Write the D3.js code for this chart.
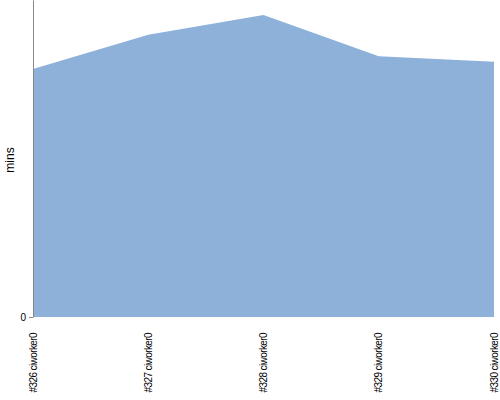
<!DOCTYPE html>
<html>
<head>
<meta charset="utf-8">
<script src="https://cdn.jsdelivr.net/npm/d3@7"></script>
<style>
  body { margin: 0; background: #fff; }
  text { font-family: "Liberation Sans", Arial, sans-serif; }
</style>
</head>
<body>
<div id="chart"></div>
<script>
// Builds and their duration in minutes.
let builds = ["#326 ciworker0", "#327 ciworker0", "#328 ciworker0", "#329 ciworker0", "#330 ciworker0"];
let mins = [31.3, 35.6, 38.1, 32.9, 32.2];
let yMax = 40;

// Set dimensions of the object.
let margin = {top: 0, right: 6, bottom: 83, left: 33},
    width = 500 - margin.left - margin.right,
    height = 400 - margin.top - margin.bottom;

let svg = d3.select("#chart")
            .append("svg")
            .attr("width", 500)
            .attr("height", 400)
            .append("g")
            .attr("transform", "translate(" + margin.left + "," + margin.top + ")");

let data = builds.map(function(b, i) { return {build: b, value: mins[i]}; });

// X axis: one point per build.
let x = d3.scalePoint()
          .domain(builds)
          .range([0, width]);

// Y axis.
let y = d3.scaleLinear()
          .domain([0, yMax])
          .range([height, 0]);

// Plot the area.
svg.append("path")
   .datum(data)
   .attr("fill", "#8eb1da")
   .attr("d", d3.area()
        .x(function(d) { return x(d.build); })
        .y0(y(0))
        .y1(function(d) { return y(d.value); }));

// Y axis with only the zero tick.
let yAxis = svg.append("g")
   .call(d3.axisLeft(y).tickValues([0]).tickSize(4).tickSizeOuter(0));
yAxis.select(".domain").attr("stroke", "#888");
yAxis.selectAll(".tick line").attr("stroke", "#888");
yAxis.selectAll(".tick text").attr("font-size", "10px").attr("fill", "#000")
     .attr("font-family", "Liberation Sans, Arial, sans-serif");

// X tick labels, rotated.
svg.append("g")
   .selectAll("text")
   .data(builds)
   .enter()
   .append("text")
   .attr("transform", function(d) { return "translate(" + (x(d) + 3.5) + "," + (height + 16) + ") rotate(-90)"; })
   .attr("text-anchor", "end")
   .attr("font-size", "10px")
   .attr("letter-spacing", "-0.6px")
   .attr("fill", "#000")
   .text(function(d) { return d; });

// Y axis label.
svg.append("text")
   .attr("transform", "rotate(-90)")
   .attr("x", -160)
   .attr("y", -19)
   .attr("text-anchor", "middle")
   .attr("font-size", "12px")
   .attr("fill", "#000")
   .text("mins");
</script>
</body>
</html>
